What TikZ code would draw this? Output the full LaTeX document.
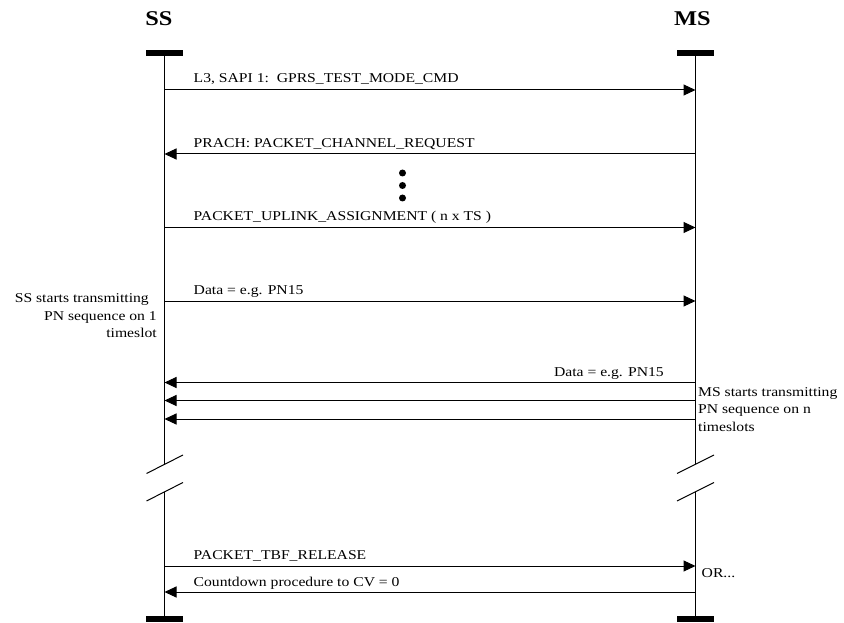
\documentclass[tikz,border=0pt]{standalone}
\usepackage{fontspec}
\setmainfont[FakeStretch=1.16]{Liberation Serif}
\usetikzlibrary{arrows.meta, positioning}

\begin{document}
\begin{tikzpicture}[
      x=1pt, y=-1pt,
      head/.style={font=\fontsize{21}{24}\selectfont\bfseries, inner sep=0pt, anchor=base},
      endbar/.style={fill=black, inner sep=0pt, minimum width=37pt, minimum height=6pt},
      lifeline/.style={line width=1.6pt},
      brk/.style={line width=1pt},
      msg/.style={-{Triangle[length=12pt, width=11pt]}, line width=1pt},
      msgtext/.style={font=\fontsize{13.5}{17}\selectfont, inner sep=0pt, anchor=base west},
      note/.style={font=\fontsize{13.5}{17.5}\selectfont, inner sep=0pt},
      dot/.style={circle, fill=black, inner sep=0pt, minimum size=7pt}
    ]
      \useasboundingbox (0,0) rectangle (844,623);

      % entities
      \node[head] (SS) at (159,26) {SS};
      \node[head] (MS) at (692.5,26) {MS};
      \node[endbar] (SStop) at (164.5,53) {};
      \node[endbar] (MStop) at (695.5,53) {};
      \node[endbar] (SSbot) at (164.5,619) {};
      \node[endbar] (MSbot) at (695.5,619) {};

      % lifelines with break
      \coordinate (SSbrk1) at (164.5,464);
      \coordinate (SSbrk2) at (164.5,491.5);
      \coordinate (MSbrk1) at (695.5,464);
      \coordinate (MSbrk2) at (695.5,491.5);
      \draw[lifeline] (SStop.south) -- (SSbrk1);
      \draw[lifeline] (SSbrk2) -- (SSbot.north);
      \draw[lifeline] (MStop.south) -- (MSbrk1);
      \draw[lifeline] (MSbrk2) -- (MSbot.north);
      \draw[brk] (146.5,473.5) -- (183,455);
      \draw[brk] (146.5,501) -- (183,482.5);
      \draw[brk] (677,473.5) -- (714,455);
      \draw[brk] (677,501) -- (714,482.5);

      % message points
      \coordinate (SS1) at (164.5,90);   \coordinate (MS1) at (695.5,90);
      \coordinate (SS2) at (164.5,154);  \coordinate (MS2) at (695.5,154);
      \coordinate (SS3) at (164.5,227.5); \coordinate (MS3) at (695.5,227.5);
      \coordinate (SS4) at (164.5,301);  \coordinate (MS4) at (695.5,301);
      \coordinate (SS5) at (164.5,382.5); \coordinate (MS5) at (695.5,382.5);
      \coordinate (SS6) at (164.5,400.5); \coordinate (MS6) at (695.5,400.5);
      \coordinate (SS7) at (164.5,419);  \coordinate (MS7) at (695.5,419);
      \coordinate (SS8) at (164.5,566);  \coordinate (MS8) at (695.5,566);
      \coordinate (SS9) at (164.5,592);  \coordinate (MS9) at (695.5,592);

      \draw[msg] (SS1) -- (MS1);
      \draw[msg] (MS2) -- (SS2);
      \draw[msg] (SS3) -- (MS3);
      \draw[msg] (SS4) -- (MS4);
      \draw[msg] (MS5) -- (SS5);
      \draw[msg] (MS6) -- (SS6);
      \draw[msg] (MS7) -- (SS7);
      \draw[msg] (SS8) -- (MS8);
      \draw[msg] (MS9) -- (SS9);

      % labels
      \node[msgtext] (T1) at (193.5,83) {L3, SAPI 1:\ \ GPRS\_TEST\_MODE\_CMD};
      \node[msgtext] (T2) at (193.5,147.5) {PRACH: PACKET\_CHANNEL\_REQUEST};
      \node[msgtext] (T3) at (193.5,221) {PACKET\_UPLINK\_ASSIGNMENT ( n x TS )};
      \node[msgtext] (T4) at (193.5,294.5) {Data = e.g. PN15};
      \node[msgtext, anchor=base east] (T5) at (664,376) {Data = e.g. PN15};
      \node[msgtext] (T8) at (193.5,559.5) {PACKET\_TBF\_RELEASE};
      \node[msgtext] (T9) at (193.5,586) {Countdown procedure to CV = 0};
      \node[msgtext] (OR) at (701.5,577) {OR...};

      \node[dot] (D1) at (402.5,173) {};
      \node[dot] (D2) at (402.5,185.5) {};
      \node[dot] (D3) at (402.5,198) {};

      \node[note, align=right, anchor=north east] (SSnote) at (157,293.5)
        {SS starts transmitting\hspace*{8pt}\\PN sequence on 1\hspace*{8pt}\\timeslot};
      \node[note, align=left, anchor=north west] (MSnote) at (698,387)
        {MS starts transmitting\\PN sequence on n\\timeslots};
    \end{tikzpicture}
\end{document}
